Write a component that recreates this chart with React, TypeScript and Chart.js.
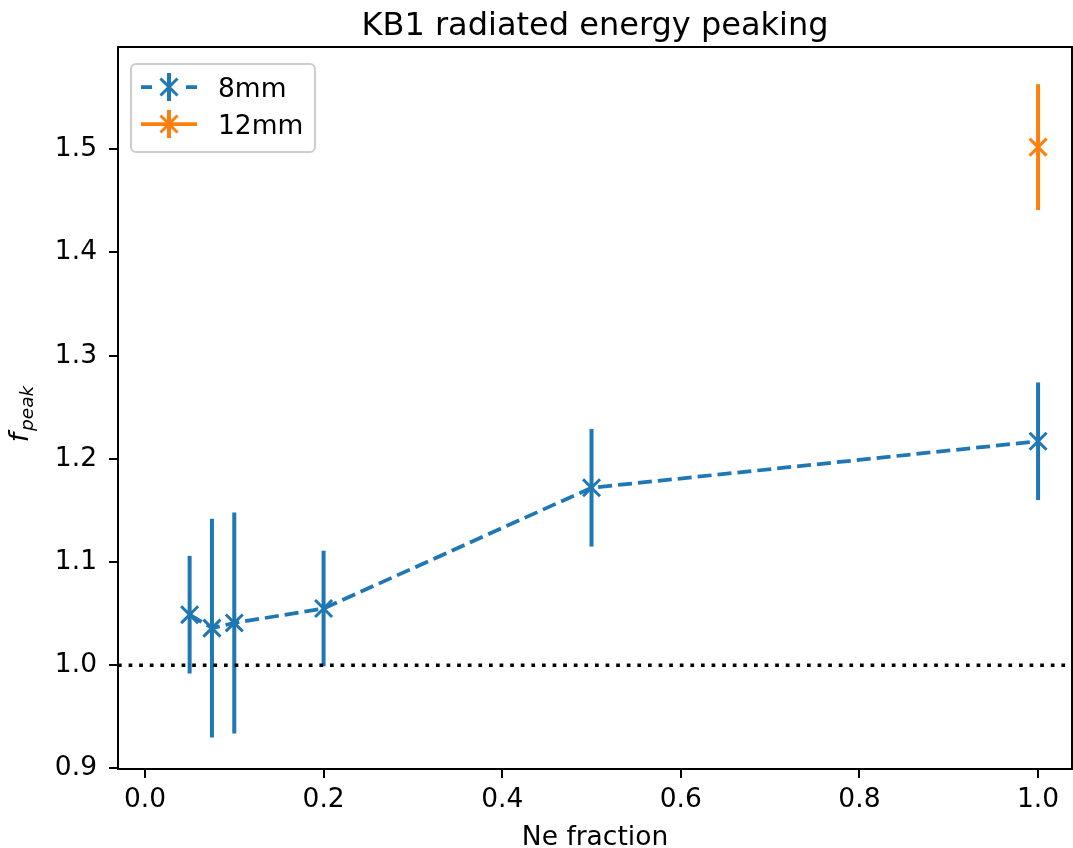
import React, { useEffect, useRef } from 'react';
import { Chart, registerables } from 'chart.js';

Chart.register(...registerables);

// ---- data ----
const neFraction8mm = [0.05, 0.075, 0.1, 0.2, 0.5, 1.0];
const fPeak8mm = [1.049, 1.036, 1.041, 1.055, 1.172, 1.217];
const fPeakErr8mm = [0.057, 0.106, 0.107, 0.056, 0.057, 0.057];

const neFraction12mm = [1.0];
const fPeak12mm = [1.502];
const fPeakErr12mm = [0.061];

const xTickValues = [0.0, 0.2, 0.4, 0.6, 0.8, 1.0];
const yTickValues = [0.9, 1.0, 1.1, 1.2, 1.3, 1.4, 1.5];
const referenceLevel = 1.0;

const seriesLabels = ['8mm', '12mm'];
const titleText = 'KB1 radiated energy peaking';
const xLabelText = 'Ne fraction';

const BLUE = '#1f77b4';
const ORANGE = '#ff7f0e';
const FONT = '"DejaVu Sans", sans-serif';
const FS = 26.5;

const errorSets = [fPeakErr8mm, fPeakErr12mm];

export default function App() {
  const ref = useRef<HTMLCanvasElement>(null);

  useEffect(() => {
    const canvas = ref.current!;

    const decorPlugin = {
      id: 'decor',
      beforeDatasetsDraw(chart: any) {
        const { ctx, scales } = chart;
        const x = scales.x, y = scales.y;
        ctx.save();
        chart.data.datasets.forEach((ds: any, i: number) => {
          const errs = errorSets[i];
          ctx.strokeStyle = ds.borderColor;
          ctx.lineWidth = 4;
          ctx.lineCap = 'butt';
          ds.data.forEach((p: any, j: number) => {
            const px = x.getPixelForValue(p.x);
            ctx.beginPath();
            ctx.moveTo(px, y.getPixelForValue(p.y - errs[j]));
            ctx.lineTo(px, y.getPixelForValue(p.y + errs[j]));
            ctx.stroke();
          });
        });
        ctx.restore();
      },
      afterDatasetsDraw(chart: any) {
        const { ctx, chartArea, scales } = chart;
        const y = scales.y;
        ctx.save();
        const py = y.getPixelForValue(referenceLevel);
        ctx.strokeStyle = '#000';
        ctx.lineWidth = 3.5;
        ctx.setLineDash([3.7, 6.9]);
        ctx.beginPath();
        ctx.moveTo(chartArea.left, py);
        ctx.lineTo(chartArea.right, py);
        ctx.stroke();
        ctx.setLineDash([]);
        ctx.restore();
      },
      afterDraw(chart: any) {
        const { ctx, chartArea } = chart;
        ctx.save();
        ctx.strokeStyle = '#000';
        ctx.lineWidth = 2;
        ctx.strokeRect(chartArea.left, chartArea.top, chartArea.right - chartArea.left, chartArea.bottom - chartArea.top);

        // title
        ctx.fillStyle = '#000';
        ctx.font = `32px ${FONT}`;
        ctx.textAlign = 'center';
        ctx.textBaseline = 'alphabetic';
        const cx = (chartArea.left + chartArea.right) / 2;
        ctx.fillText(titleText, cx, 35);

        // x label
        ctx.font = `${FS}px ${FONT}`;
        ctx.fillText(xLabelText, cx, 845);

        // y label f_peak
        ctx.save();
        ctx.translate(28, 415);
        ctx.rotate(-Math.PI / 2);
        ctx.textAlign = 'left';
        ctx.textBaseline = 'alphabetic';
        ctx.font = `italic ${FS}px ${FONT}`;
        const wf = ctx.measureText('f').width;
        ctx.font = `italic 18.5px ${FONT}`;
        const wp = ctx.measureText('peak').width;
        const start = -(wf + wp) / 2;
        ctx.font = `italic ${FS}px ${FONT}`;
        ctx.fillText('f', start, 0);
        ctx.font = `italic 18.5px ${FONT}`;
        ctx.fillText('peak', start + wf + 2, 5);
        ctx.restore();

        // legend
        const bx = 131, by = 64, bw = 184, bh = 88, r = 5;
        ctx.beginPath();
        ctx.moveTo(bx + r, by);
        ctx.lineTo(bx + bw - r, by);
        ctx.arcTo(bx + bw, by, bx + bw, by + r, r);
        ctx.lineTo(bx + bw, by + bh - r);
        ctx.arcTo(bx + bw, by + bh, bx + bw - r, by + bh, r);
        ctx.lineTo(bx + r, by + bh);
        ctx.arcTo(bx, by + bh, bx, by + bh - r, r);
        ctx.lineTo(bx, by + r);
        ctx.arcTo(bx, by, bx + r, by, r);
        ctx.closePath();
        ctx.fillStyle = 'rgba(255,255,255,0.8)';
        ctx.fill();
        ctx.strokeStyle = '#cccccc';
        ctx.lineWidth = 2;
        ctx.stroke();

        const rows = [
          { label: seriesLabels[0], color: BLUE, dash: true, y: 87 },
          { label: seriesLabels[1], color: ORANGE, dash: false, y: 124 },
        ];
        rows.forEach((row) => {
          const x0 = 141, x1 = 197, xm = 169;
          ctx.strokeStyle = row.color;
          ctx.lineWidth = 3.75;
          ctx.beginPath();
          if (row.dash) {
            ctx.moveTo(x0, row.y); ctx.lineTo(x0 + 11, row.y);
            ctx.moveTo(x1 - 11, row.y); ctx.lineTo(x1, row.y);
          } else {
            ctx.moveTo(x0, row.y); ctx.lineTo(x1, row.y);
          }
          ctx.stroke();
          ctx.lineWidth = 4;
          ctx.beginPath();
          ctx.moveTo(xm, row.y - 14);
          ctx.lineTo(xm, row.y + 14);
          ctx.stroke();
          ctx.lineWidth = 3;
          const h = 8.5;
          ctx.beginPath();
          ctx.moveTo(xm - h, row.y - h); ctx.lineTo(xm + h, row.y + h);
          ctx.moveTo(xm - h, row.y + h); ctx.lineTo(xm + h, row.y - h);
          ctx.stroke();
          ctx.fillStyle = '#000';
          ctx.font = `${FS}px ${FONT}`;
          ctx.textAlign = 'left';
          ctx.textBaseline = 'alphabetic';
          ctx.fillText(row.label, 218, row.y + 10);
        });
        ctx.restore();
      },
    };

    const chart = new Chart(canvas, {
      type: 'scatter',
      data: {
        datasets: [
          {
            label: seriesLabels[0],
            data: neFraction8mm.map((x, i) => ({ x, y: fPeak8mm[i] })),
            showLine: true,
            borderColor: BLUE,
            backgroundColor: BLUE,
            borderWidth: 3.75,
            borderDash: [14, 6],
            pointStyle: 'crossRot',
            pointRadius: 12,
            pointBorderWidth: 3,
            pointBorderColor: BLUE,
            pointHoverRadius: 12,
            clip: false,
          },
          {
            label: seriesLabels[1],
            data: neFraction12mm.map((x, i) => ({ x, y: fPeak12mm[i] })),
            showLine: true,
            borderColor: ORANGE,
            backgroundColor: ORANGE,
            borderWidth: 3.75,
            pointStyle: 'crossRot',
            pointRadius: 12,
            pointBorderWidth: 3,
            pointBorderColor: ORANGE,
            pointHoverRadius: 12,
            clip: false,
          },
        ],
      },
      options: {
        responsive: false,
        animation: false,
        events: [],
        layout: { autoPadding: false, padding: { top: 47, right: 1, left: 0, bottom: 0 } },
        plugins: {
          legend: { display: false },
          title: { display: false },
          tooltip: { enabled: false },
        },
        scales: {
          x: {
            type: 'linear',
            min: -0.0302,
            max: 1.038,
            afterBuildTicks: (s: any) => { s.ticks = xTickValues.map((v) => ({ value: v })); },
            afterFit: (s: any) => { s.height = 79; s.paddingLeft = 0; s.paddingRight = 0; },
            grid: { drawOnChartArea: false, drawTicks: true, tickLength: 9, color: '#000', lineWidth: 2 },
            border: { display: true, color: '#000', width: 2 },
            ticks: {
              color: '#000',
              font: { family: FONT, size: FS },
              padding: 6,
              maxRotation: 0,
              callback: (v: any) => Number(v).toFixed(1),
            },
          },
          y: {
            type: 'linear',
            min: 0.8995,
            max: 1.599,
            afterBuildTicks: (s: any) => { s.ticks = yTickValues.map((v) => ({ value: v })); },
            afterFit: (s: any) => { s.width = 118; s.paddingTop = 0; s.paddingBottom = 0; },
            grid: { drawOnChartArea: false, drawTicks: true, tickLength: 9, color: '#000', lineWidth: 2 },
            border: { display: true, color: '#000', width: 2 },
            ticks: {
              color: '#000',
              font: { family: FONT, size: FS },
              padding: 12,
              callback: (v: any) => Number(v).toFixed(1),
            },
          },
        },
      },
      plugins: [decorPlugin],
    });

    return () => chart.destroy();
  }, []);

  return (
    <div style={{ position: 'absolute', left: 0, top: 0, width: 1073, height: 848, background: '#fff' }}>
      <canvas ref={ref} width={1073} height={848} style={{ width: 1073, height: 848, display: 'block' }} />
    </div>
  );
}
